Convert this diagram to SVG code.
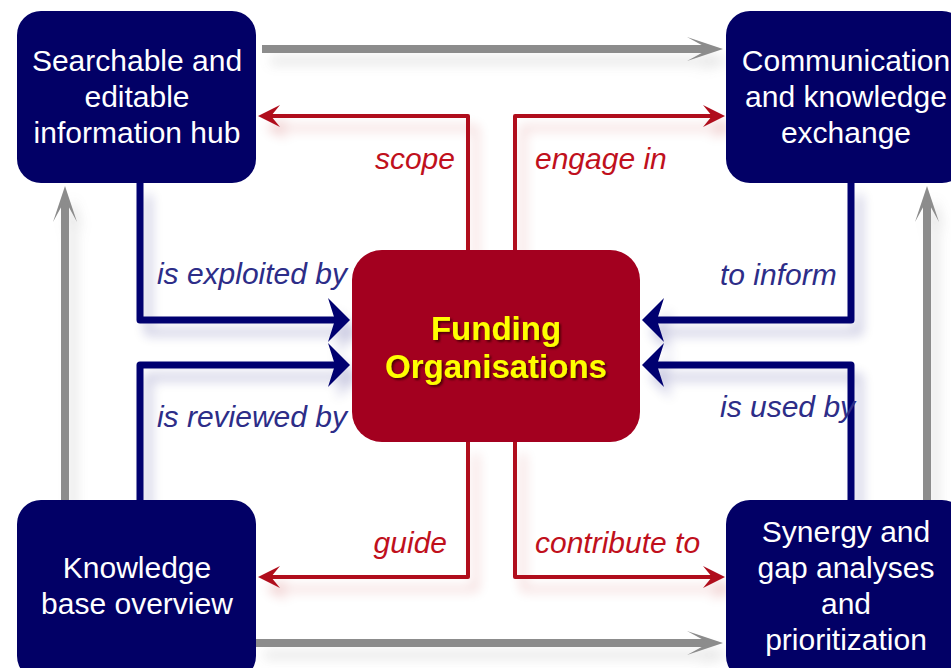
<svg xmlns="http://www.w3.org/2000/svg" width="951" height="668" viewBox="0 0 951 668">
<style>
.node{fill:#020066}
.ntext{font-family:"Liberation Sans",Arial,sans-serif;font-size:30px;fill:#ffffff;text-anchor:middle}
.ctext{font-family:"Liberation Sans",Arial,sans-serif;font-size:33px;font-weight:bold;fill:#ffff00;text-anchor:middle}
.gray{fill:none;stroke:#8c8c8c;stroke-width:8}
.red{fill:none;stroke:#b00d1a;stroke-width:4;stroke-linejoin:round}
.blue{fill:none;stroke:#030070;stroke-width:7;stroke-linejoin:round}
.lbl{font-family:"Liberation Sans",Arial,sans-serif;font-size:30px;font-style:italic}
.lr{fill:#c0101c}
.lb{fill:#2d2d88}
</style>
<defs>
<filter id="sh" x="-20%" y="-20%" width="140%" height="140%">
<feGaussianBlur in="SourceGraphic" stdDeviation="6" result="b"/>
<feOffset in="b" dx="8" dy="12" result="o"/>
<feComponentTransfer in="o" result="t"><feFuncA type="linear" slope="0.22"/></feComponentTransfer>
<feMerge><feMergeNode in="t"/><feMergeNode in="SourceGraphic"/></feMerge>
</filter>
<filter id="ts" x="-10%" y="-10%" width="120%" height="130%">
<feDropShadow dx="2" dy="2" stdDeviation="1" flood-color="#400000" flood-opacity="0.8"/>
</filter>
<marker id="mg" markerUnits="userSpaceOnUse" viewBox="-24 -14 40 28" refX="0" refY="0" markerWidth="40" markerHeight="28" orient="auto">
<path d="M14,0 L-22,-12 L0,0 L-22,12 Z" fill="#8c8c8c"/>
</marker>
<marker id="mr" markerUnits="userSpaceOnUse" viewBox="-12 -13 28 26" refX="0" refY="0" markerWidth="28" markerHeight="26" orient="auto">
<path d="M13,0 L-9,-11 L0,0 L-9,11 Z" fill="#b00d1a"/>
</marker>
<marker id="mb" markerUnits="userSpaceOnUse" viewBox="-12 -24 26 48" refX="0" refY="0" markerWidth="26" markerHeight="48" orient="auto">
<path d="M12,0 L-10,-22 L-3,0 L-10,22 Z" fill="#030070"/>
</marker>
</defs>
<rect width="951" height="668" fill="#ffffff"/>
<g id="connectors" filter="url(#sh)">
<path class="gray" d="M262,49 H709" marker-end="url(#mg)"/>
<path class="gray" d="M256,643 H709" marker-end="url(#mg)"/>
<path class="gray" d="M65,500 V200" marker-end="url(#mg)"/>
<path class="gray" d="M927,500 V200" marker-end="url(#mg)"/>
<path class="red" d="M468,250 V116 H271" marker-end="url(#mr)"/>
<path class="red" d="M515,250 V116 H712" marker-end="url(#mr)"/>
<path class="red" d="M468,442 V577 H271" marker-end="url(#mr)"/>
<path class="red" d="M515,442 V577 H712" marker-end="url(#mr)"/>
<path class="blue" d="M140,183 V320 H338" marker-end="url(#mb)"/>
<path class="blue" d="M140,500 V365 H338" marker-end="url(#mb)"/>
<path class="blue" d="M851,183 V320 H654" marker-end="url(#mb)"/>
<path class="blue" d="M851,500 V365 H654" marker-end="url(#mb)"/>
</g>
<g id="labels">
<text class="lbl lr" x="455" y="169" text-anchor="end">scope</text>
<text class="lbl lr" x="535" y="169">engage in</text>
<text class="lbl lr" x="447" y="553" text-anchor="end">guide</text>
<text class="lbl lr" x="535" y="553">contribute to</text>
<text class="lbl lb" x="347" y="284" text-anchor="end">is exploited by</text>
<text class="lbl lb" x="347" y="427" text-anchor="end">is reviewed by</text>
<text class="lbl lb" x="720" y="285">to inform</text>
<text class="lbl lb" x="720" y="417">is used by</text>
</g>
<g id="hub">
<rect class="node" x="17" y="11" width="239" height="172" rx="24"/>
<text class="ntext" x="137" y="71">Searchable and</text>
<text class="ntext" x="137" y="107">editable</text>
<text class="ntext" x="137" y="143">information hub</text>
</g>
<g id="communication">
<rect class="node" x="726" y="11" width="240" height="172" rx="24"/>
<text class="ntext" x="846" y="71">Communication</text>
<text class="ntext" x="846" y="107">and knowledge</text>
<text class="ntext" x="846" y="143">exchange</text>
</g>
<g id="knowledge">
<rect class="node" x="17" y="500" width="239" height="180" rx="24"/>
<text class="ntext" x="137" y="578">Knowledge</text>
<text class="ntext" x="137" y="614">base overview</text>
</g>
<g id="synergy">
<rect class="node" x="726" y="500" width="240" height="180" rx="24"/>
<text class="ntext" x="846" y="542">Synergy and</text>
<text class="ntext" x="846" y="578">gap analyses</text>
<text class="ntext" x="846" y="614">and</text>
<text class="ntext" x="846" y="650">prioritization</text>
</g>
<g id="funding">
<rect x="352" y="250" width="288" height="192" rx="30" fill="#a3001f"/>
<g filter="url(#ts)">
<text class="ctext" x="496" y="340">Funding</text>
<text class="ctext" x="496" y="378">Organisations</text>
</g>
</g>
</svg>
